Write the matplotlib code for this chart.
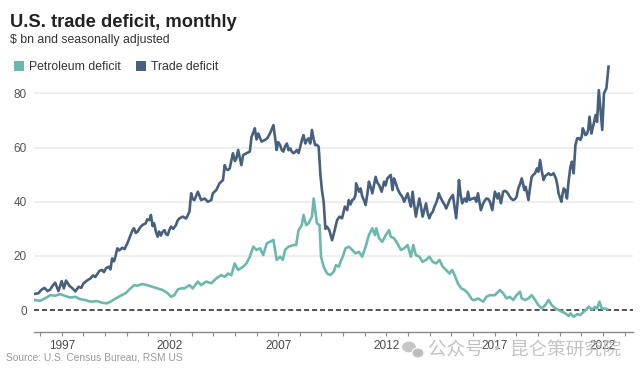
import matplotlib
matplotlib.use("Agg")
import matplotlib.pyplot as plt
from matplotlib.patches import Patch, Ellipse

# monthly US trade deficit, $bn, seasonally adjusted (decimal years)
trade_x = [
    1995.77, 1995.92, 1996.05, 1996.2, 1996.35, 1996.47, 1996.58, 1996.7, 1996.85, 1997.0,
    1997.1, 1997.2, 1997.35, 1997.5, 1997.63, 1997.78, 1997.9, 1998.0, 1998.15, 1998.33,
    1998.45, 1998.55, 1998.64, 1998.75, 1998.87, 1998.95, 1999.05, 1999.18, 1999.25, 1999.33,
    1999.42, 1999.48, 1999.57, 1999.65, 1999.8, 1999.9, 2000.03, 2000.1, 2000.19, 2000.27,
    2000.34, 2000.42, 2000.5, 2000.58, 2000.65, 2000.75, 2000.88, 2000.95, 2001.05, 2001.12,
    2001.2, 2001.27, 2001.35, 2001.43, 2001.5, 2001.58, 2001.66, 2001.75, 2001.82, 2001.9,
    2001.97, 2002.05, 2002.15, 2002.28, 2002.35, 2002.43, 2002.59, 2002.75, 2002.9, 2002.98,
    2003.05, 2003.13, 2003.29, 2003.44, 2003.6, 2003.75, 2003.91, 2003.98, 2004.14, 2004.29,
    2004.45, 2004.53, 2004.6, 2004.68, 2004.76, 2004.91, 2005.0, 2005.07, 2005.15, 2005.3,
    2005.38, 2005.53, 2005.69, 2005.77, 2005.85, 2005.92, 2006.0, 2006.08, 2006.23, 2006.39,
    2006.5, 2006.62, 2006.78, 2006.85, 2006.93, 2007.0, 2007.09, 2007.17, 2007.24, 2007.32,
    2007.4, 2007.48, 2007.55, 2007.63, 2007.71, 2007.8, 2007.86, 2007.94, 2008.02, 2008.1,
    2008.17, 2008.25, 2008.33, 2008.4, 2008.48, 2008.56, 2008.64, 2008.71, 2008.79, 2008.87,
    2008.95, 2009.02, 2009.1, 2009.18, 2009.25, 2009.36, 2009.49, 2009.61, 2009.72, 2009.83,
    2009.95, 2010.08, 2010.19, 2010.26, 2010.34, 2010.42, 2010.5, 2010.57, 2010.6, 2010.73,
    2010.81, 2010.88, 2010.96, 2011.04, 2011.12, 2011.19, 2011.27, 2011.35, 2011.42, 2011.5,
    2011.58, 2011.66, 2011.78, 2011.89, 2011.96, 2012.04, 2012.2, 2012.28, 2012.35, 2012.43,
    2012.51, 2012.59, 2012.67, 2012.75, 2012.82, 2012.9, 2012.98, 2013.05, 2013.13, 2013.21,
    2013.28, 2013.36, 2013.44, 2013.52, 2013.6, 2013.67, 2013.75, 2013.83, 2013.9, 2013.98,
    2014.06, 2014.14, 2014.21, 2014.29, 2014.36, 2014.42, 2014.5, 2014.6, 2014.68, 2014.76,
    2014.84, 2014.91, 2014.98, 2015.07, 2015.15, 2015.22, 2015.3, 2015.35, 2015.42, 2015.5,
    2015.61, 2015.7, 2015.77, 2015.84, 2015.92, 2016.0, 2016.08, 2016.15, 2016.23, 2016.36,
    2016.47, 2016.55, 2016.62, 2016.7, 2016.78, 2016.89, 2017.01, 2017.13, 2017.19, 2017.29,
    2017.39, 2017.47, 2017.55, 2017.63, 2017.7, 2017.78, 2017.86, 2017.94, 2018.01, 2018.09,
    2018.17, 2018.25, 2018.33, 2018.37, 2018.43, 2018.5, 2018.56, 2018.63, 2018.71, 2018.79,
    2018.87, 2018.95, 2019.02, 2019.1, 2019.18, 2019.26, 2019.33, 2019.41, 2019.49, 2019.57,
    2019.64, 2019.72, 2019.83, 2019.9, 2019.95, 2020.02, 2020.08, 2020.14, 2020.19, 2020.26,
    2020.34, 2020.42, 2020.5, 2020.57, 2020.65, 2020.73, 2020.81, 2020.88, 2020.96, 2021.02,
    2021.07, 2021.13, 2021.19, 2021.26, 2021.32, 2021.38, 2021.43, 2021.47, 2021.52, 2021.58,
    2021.66, 2021.73, 2021.81, 2021.97, 2022.05, 2022.16, 2022.26,
]
trade_y = [
    6.0, 6.2, 7.4, 8.2, 7.0, 7.6, 9.0, 10.1, 7.0, 10.7,
    8.0, 10.9, 9.0, 8.0, 6.9, 8.6, 8.2, 9.8, 10.8, 11.7,
    12.8, 12.2, 13.3, 14.5, 14.8, 14.0, 15.5, 16.0, 15.0, 19.1,
    18.0, 19.7, 22.8, 22.0, 23.0, 22.5, 24.6, 26.0, 27.7, 29.5,
    30.2, 28.5, 28.9, 30.0, 30.8, 31.5, 32.0, 33.5, 33.2, 35.1,
    31.0, 32.0, 29.0, 27.1, 29.0, 27.5, 28.9, 29.5, 28.0, 27.7,
    29.5, 30.8, 30.0, 31.4, 33.0, 33.8, 34.5, 33.8, 36.3, 43.1,
    41.0, 40.6, 43.7, 40.6, 41.2, 40.0, 40.6, 43.1, 44.3, 46.8,
    48.0, 53.5, 52.0, 51.7, 52.3, 57.9, 55.0, 56.0, 59.1, 53.5,
    57.2, 57.9, 58.5, 64.0, 65.5, 67.1, 63.0, 65.2, 62.2, 62.8,
    63.5, 65.2, 68.3, 64.0, 59.1, 62.0, 60.9, 59.0, 58.5, 60.5,
    61.5, 59.0, 59.7, 58.5, 57.9, 58.5, 59.1, 58.0, 60.3, 63.0,
    64.6, 61.5, 62.8, 63.4, 61.5, 66.5, 63.0, 60.9, 61.0, 60.3,
    50.0, 44.3, 40.0, 30.0, 30.8, 29.5, 25.8, 29.5, 33.2, 34.5,
    33.9, 38.2, 36.9, 40.6, 39.0, 40.6, 41.0, 42.5, 46.8, 43.7,
    44.9, 42.0, 40.6, 38.8, 43.0, 47.4, 45.5, 43.1, 46.0, 49.2,
    47.0, 46.2, 43.7, 47.4, 46.0, 48.6, 49.9, 44.3, 48.6, 47.0,
    44.9, 43.5, 42.5, 41.5, 40.0, 41.5, 43.1, 40.5, 38.2, 43.7,
    39.0, 34.5, 38.0, 41.2, 38.0, 34.5, 37.0, 39.4, 36.0, 33.9,
    35.5, 36.3, 38.0, 39.4, 41.0, 43.1, 41.5, 40.0, 39.0, 37.5,
    39.0, 40.6, 41.5, 42.5, 38.0, 33.9, 41.0, 48.0, 43.0, 39.4,
    41.2, 40.0, 43.7, 40.6, 41.0, 41.2, 41.5, 40.0, 43.1, 36.9,
    39.4, 40.5, 41.2, 41.0, 40.0, 36.9, 43.7, 41.2, 43.1, 39.4,
    43.7, 44.0, 43.7, 42.8, 41.8, 41.0, 40.6, 41.0, 41.8, 44.9,
    46.5, 48.6, 46.0, 44.3, 45.5, 43.0, 40.6, 45.0, 49.2, 50.0,
    50.5, 52.3, 51.1, 55.4, 51.1, 48.0, 49.5, 49.9, 50.5, 49.9,
    50.0, 50.5, 48.6, 46.0, 43.1, 41.5, 40.0, 43.0, 44.9, 44.3,
    41.2, 48.0, 52.9, 54.8, 50.5, 60.9, 63.4, 63.5, 62.8, 64.0,
    67.1, 66.0, 64.6, 65.0, 66.5, 71.4, 68.0, 65.2, 67.0, 68.9,
    72.0, 69.5, 81.2, 66.5, 80.0, 81.9, 89.9,
]

# petroleum deficit, $bn
petro_x = [
    1995.77, 1996.0, 1996.23, 1996.47, 1996.7, 1996.93, 1997.16, 1997.4, 1997.63, 1997.86,
    1998.09, 1998.33, 1998.64, 1998.87, 1999.1, 1999.26, 1999.49, 1999.72, 1999.95, 2000.1,
    2000.34, 2000.5, 2000.72, 2000.95, 2001.19, 2001.43, 2001.66, 2001.9, 2002.05, 2002.2,
    2002.36, 2002.51, 2002.67, 2002.9, 2003.05, 2003.29, 2003.44, 2003.67, 2003.91, 2004.14,
    2004.37, 2004.53, 2004.68, 2004.84, 2004.99, 2005.15, 2005.38, 2005.53, 2005.69, 2005.85,
    2006.0, 2006.16, 2006.31, 2006.47, 2006.62, 2006.78, 2006.93, 2007.09, 2007.21, 2007.32,
    2007.47, 2007.71, 2007.83, 2007.94, 2008.09, 2008.17, 2008.29, 2008.4, 2008.56, 2008.64,
    2008.79, 2008.91, 2008.98, 2009.1, 2009.26, 2009.41, 2009.57, 2009.67, 2009.8, 2009.88,
    2009.98, 2010.11, 2010.26, 2010.42, 2010.57, 2010.73, 2010.88, 2011.04, 2011.19, 2011.35,
    2011.47, 2011.53, 2011.66, 2011.81, 2011.97, 2012.12, 2012.2, 2012.35, 2012.51, 2012.67,
    2012.82, 2012.98, 2013.13, 2013.24, 2013.36, 2013.52, 2013.67, 2013.83, 2013.98, 2014.14,
    2014.29, 2014.45, 2014.6, 2014.76, 2014.91, 2015.04, 2015.15, 2015.3, 2015.46, 2015.61,
    2015.77, 2015.92, 2016.0, 2016.08, 2016.23, 2016.47, 2016.62, 2016.78, 2017.01, 2017.24,
    2017.39, 2017.55, 2017.7, 2017.86, 2018.01, 2018.17, 2018.25, 2018.4, 2018.56, 2018.71,
    2018.87, 2019.02, 2019.18, 2019.33, 2019.49, 2019.64, 2019.8, 2019.95, 2020.11, 2020.26,
    2020.42, 2020.5, 2020.65, 2020.81, 2020.96, 2021.12, 2021.27, 2021.35, 2021.5, 2021.63,
    2021.73, 2021.84, 2021.94, 2022.05, 2022.2,
]
petro_y = [
    3.7, 3.4, 4.3, 5.5, 5.3, 5.9, 5.2, 4.6, 4.9, 4.0,
    3.7, 3.1, 3.3, 2.7, 2.5, 3.1, 4.3, 5.3, 6.2, 7.4,
    9.2, 9.0, 9.6, 9.2, 8.6, 8.0, 7.4, 6.2, 4.9, 5.5,
    7.6, 8.0, 8.0, 9.2, 8.0, 10.5, 9.2, 10.5, 9.9, 11.7,
    12.9, 12.3, 13.5, 12.9, 17.2, 14.8, 16.0, 17.2, 19.7, 23.4,
    22.2, 22.8, 20.3, 24.6, 25.2, 25.9, 18.5, 19.7, 18.5, 22.2,
    23.4, 24.0, 24.0, 29.5, 31.4, 35.1, 31.4, 32.0, 34.5, 41.2,
    32.0, 31.4, 19.7, 16.0, 13.5, 12.9, 14.2, 16.6, 16.0, 17.8,
    19.7, 22.8, 23.4, 22.2, 20.9, 21.5, 19.7, 23.4, 27.7, 30.2,
    27.7, 30.2, 26.5, 25.2, 27.7, 29.5, 27.1, 26.5, 24.6, 22.2,
    22.8, 24.0, 19.7, 24.0, 20.3, 19.7, 17.8, 18.5, 19.7, 17.8,
    17.2, 18.5, 16.0, 14.8, 13.5, 14.8, 12.9, 9.8, 8.0, 7.4,
    6.2, 4.3, 3.7, 3.7, 4.3, 3.1, 4.9, 5.5, 5.5, 7.4,
    6.2, 4.3, 4.9, 3.7, 5.5, 6.8, 4.3, 3.7, 4.3, 5.5,
    3.7, 1.8, 0.6, 1.8, 3.7, 1.8, 0.6, 0.0, -0.6, -1.2,
    -2.2, -1.2, -2.5, -1.5, -1.8, -0.6, 0.6, 1.2, 0.2, 1.2,
    0.6, 3.1, 0.6, 0.6, 0.3,
]

major_years = [1997, 2002, 2007, 2012, 2017, 2022]
minor_years = list(range(1996, 2024))
y_ticks = [0, 20, 40, 60, 80]

TRADE_COLOR = "#46607e"
PETRO_COLOR = "#6db8ad"
FONT = "Liberation Sans"

plt.rcParams["font.family"] = [FONT, "DejaVu Sans"]

fig = plt.figure(figsize=(6.4, 3.78), dpi=100)
ax = fig.add_axes([34 / 640, 1 - 332 / 378, (633 - 34) / 640, (332 - 60.9) / 378])

ax.set_xlim(1995.72, 2023.39)
ax.set_ylim(-8.1, 92)

for v in y_ticks[1:]:
    ax.axhline(v, color="#ebebeb", lw=1.2, zorder=1)
ax.axhline(0, color="#222222", lw=1.1, ls=(0, (3.3, 1.9)), zorder=2)

ax.plot(petro_x, petro_y, color=PETRO_COLOR, lw=1.9, zorder=3, solid_joinstyle="round")
ax.plot(trade_x, trade_y, color=TRADE_COLOR, lw=1.9, zorder=4, solid_joinstyle="round")

for s in ["top", "right", "left"]:
    ax.spines[s].set_visible(False)
ax.spines["bottom"].set_color("#8a8a8a")
ax.spines["bottom"].set_linewidth(1.0)

ax.set_xticks(major_years)
ax.set_xticklabels([str(y) for y in major_years])
ax.set_xticks(minor_years, minor=True)
ax.tick_params(axis="x", which="both", direction="out", length=3, width=0.8,
               color="#8a8a8a", labelsize=8.5, labelcolor="#4a4a4a", pad=2.5)
ax.set_yticks(y_ticks)
ax.tick_params(axis="y", length=0, labelsize=8.5, labelcolor="#555555", pad=5)

fig.text(10 / 640, 1 - 27 / 378, "U.S. trade deficit, monthly", fontsize=13.2,
         fontweight="bold", color="#222222", va="baseline", ha="left")
fig.text(10 / 640, 1 - 43 / 378, "$ bn and seasonally adjusted", fontsize=8.8,
         color="#333333", va="baseline", ha="left")

handles = [Patch(facecolor=PETRO_COLOR, edgecolor="none"),
           Patch(facecolor=TRADE_COLOR, edgecolor="none")]
fig.legend(handles, ["Petroleum deficit", "Trade deficit"], loc="center left",
           bbox_to_anchor=(14 / 640, 1 - 67 / 378), ncol=2, frameon=False,
           fontsize=8.8, handlelength=0.85, handleheight=0.85, handletextpad=0.4,
           columnspacing=1.2, borderpad=0, borderaxespad=0, labelcolor="#333333")

fig.text(6 / 640, 1 - 357 / 378, "Source: U.S. Census Bureau, RSM US", fontsize=7.4,
         color="#9a9a9a", va="center", ha="left")

# watermark (sits over the x tick labels, as in the source image)
fig.patches.append(Ellipse((409 / 640, 1 - 347 / 378), 15 / 640, 12 / 378,
                           transform=fig.transFigure, facecolor="#c6c6c6",
                           edgecolor="white", lw=0.8, zorder=10))
fig.patches.append(Ellipse((418 / 640, 1 - 353 / 378), 12 / 640, 10 / 378,
                           transform=fig.transFigure, facecolor="#bdbdbd",
                           edgecolor="white", lw=0.8, zorder=11))
fig.text(428 / 640, 1 - 351 / 378, "公众号 · 昆仑策研究院", fontsize=13.3,
         family=["Noto Sans CJK SC", "DejaVu Sans"], color="#c2c2c2",
         va="center", ha="left", zorder=12)

fig.savefig("out.png", dpi=100)
